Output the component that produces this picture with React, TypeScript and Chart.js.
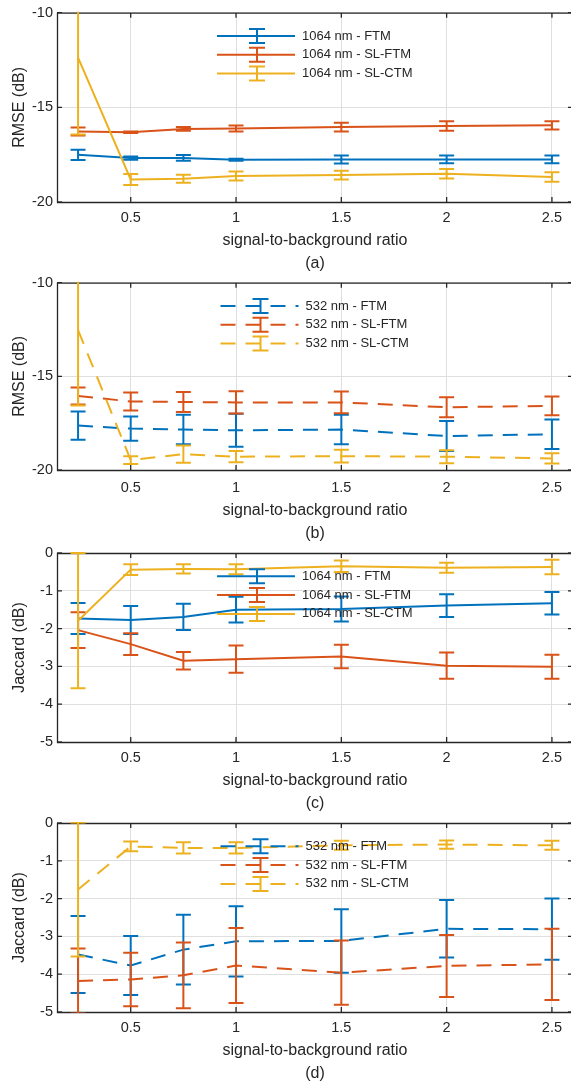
import React, { useEffect, useRef } from 'react';
import { Chart, registerables } from 'chart.js';

Chart.register(...registerables);

// ---------- data ----------
const sbr = [0.25, 0.5, 0.75, 1, 1.5, 2, 2.5];
const xTicks = [0.5, 1, 1.5, 2, 2.5];
const xTickLabels = ['0.5', '1', '1.5', '2', '2.5'];
const xTitle = 'signal-to-background ratio';

const rmseTicks = [-20, -15, -10];
const rmseTickLabels = ['-20', '-15', '-10'];
const jaccardTicks = [-5, -4, -3, -2, -1, 0];
const jaccardTickLabels = ['-5', '-4', '-3', '-2', '-1', '0'];

const methods = ['FTM', 'SL-FTM', 'SL-CTM'];

// (a) RMSE, 1064 nm
const rmse1064FTM = [-17.51, -17.68, -17.67, -17.77, -17.75, -17.75, -17.75];
const rmse1064FTMErr = [0.27, 0.09, 0.15, 0.05, 0.21, 0.2, 0.2];
const rmse1064SLFTM = [-16.28, -16.32, -16.14, -16.12, -16.04, -15.98, -15.95];
const rmse1064SLFTMErr = [0.21, 0.04, 0.1, 0.16, 0.23, 0.25, 0.22];
const rmse1064SLCTM = [-12.37, -18.81, -18.77, -18.63, -18.58, -18.51, -18.68];
const rmse1064SLCTMErr = [4.07, 0.29, 0.21, 0.24, 0.23, 0.25, 0.25];

// (b) RMSE, 532 nm
const rmse532FTM = [-17.63, -17.79, -17.84, -17.88, -17.84, -18.19, -18.09];
const rmse532FTMErr = [0.75, 0.65, 0.79, 0.88, 0.79, 0.8, 0.79];
const rmse532SLFTM = [-16.05, -16.34, -16.37, -16.39, -16.39, -16.65, -16.58];
const rmse532SLFTMErr = [0.45, 0.48, 0.54, 0.6, 0.58, 0.54, 0.5];
const rmse532SLCTM = [-12.53, -19.47, -19.15, -19.29, -19.26, -19.29, -19.38];
const rmse532SLCTMErr = [4.02, 0.21, 0.46, 0.3, 0.34, 0.35, 0.27];

// (c) Jaccard, 1064 nm
const jac1064FTM = [-1.73, -1.77, -1.69, -1.5, -1.48, -1.39, -1.33];
const jac1064FTMErr = [0.41, 0.37, 0.35, 0.34, 0.33, 0.3, 0.3];
const jac1064SLFTM = [-2.04, -2.41, -2.85, -2.81, -2.74, -2.98, -3.01];
const jac1064SLFTMErr = [0.47, 0.29, 0.23, 0.36, 0.31, 0.35, 0.32];
const jac1064SLCTM = [-1.79, -0.44, -0.42, -0.43, -0.35, -0.39, -0.37];
const jac1064SLCTMErr = [1.79, 0.14, 0.12, 0.13, 0.15, 0.13, 0.19];

// (d) Jaccard, 532 nm
const jac532FTM = [-3.48, -3.77, -3.35, -3.13, -3.12, -2.8, -2.81];
const jac532FTMErr = [1.02, 0.78, 0.92, 0.93, 0.84, 0.76, 0.81];
const jac532SLFTM = [-4.18, -4.14, -4.03, -3.77, -3.96, -3.78, -3.74];
const jac532SLFTMErr = [0.86, 0.71, 0.87, 0.99, 0.85, 0.82, 0.94];
const jac532SLCTM = [-1.76, -0.62, -0.66, -0.66, -0.59, -0.57, -0.59];
const jac532SLCTMErr = [1.77, 0.13, 0.15, 0.15, 0.12, 0.11, 0.12];

// ---------- styling ----------
const COLORS = ['#0072BD', '#D95319', '#EDB120'];
const INK = '#262626';
const GRID = '#dfdfdf';
const FONT = "'Liberation Sans', Arial, Helvetica, sans-serif";
const W = 580;
const H = 275;
const PLOT_RIGHT = 573;
const Y_AXIS_W = 57;

Chart.defaults.font.family = FONT;
Chart.defaults.color = INK;

type Series = { label: string; values: number[]; errors: number[]; color: string };
type PanelCfg = {
  series: Series[];
  dashed: boolean;
  yMin: number;
  yMax: number;
  yTicks: number[];
  yTickLabels: string[];
  yTitle: string;
  caption: string;
  top: number;
  plotTop: number;
  plotBottom: number;
  xTickPad: number;
  legendX: number;
};

const mk = (lambda: string, vals: number[][], errs: number[][]): Series[] =>
  methods.map((m, i) => ({ label: `${lambda} - ${m}`, values: vals[i], errors: errs[i], color: COLORS[i] }));

const panels: PanelCfg[] = [
  {
    series: mk('1064 nm', [rmse1064FTM, rmse1064SLFTM, rmse1064SLCTM], [rmse1064FTMErr, rmse1064SLFTMErr, rmse1064SLCTMErr]),
    dashed: false, yMin: -20, yMax: -10, yTicks: rmseTicks, yTickLabels: rmseTickLabels,
    yTitle: 'RMSE (dB)', caption: '(a)', top: 0, plotTop: 12, plotBottom: 202, xTickPad: 7, legendX: 217,
  },
  {
    series: mk('532 nm', [rmse532FTM, rmse532SLFTM, rmse532SLCTM], [rmse532FTMErr, rmse532SLFTMErr, rmse532SLCTMErr]),
    dashed: true, yMin: -20, yMax: -10, yTicks: rmseTicks, yTickLabels: rmseTickLabels,
    yTitle: 'RMSE (dB)', caption: '(b)', top: 270, plotTop: 12, plotBottom: 200, xTickPad: 9, legendX: 220.5,
  },
  {
    series: mk('1064 nm', [jac1064FTM, jac1064SLFTM, jac1064SLCTM], [jac1064FTMErr, jac1064SLFTMErr, jac1064SLCTMErr]),
    dashed: false, yMin: -5, yMax: 0, yTicks: jaccardTicks, yTickLabels: jaccardTickLabels,
    yTitle: 'Jaccard (dB)', caption: '(c)', top: 540, plotTop: 13, plotBottom: 202, xTickPad: 7, legendX: 217,
  },
  {
    series: mk('532 nm', [jac532FTM, jac532SLFTM, jac532SLCTM], [jac532FTMErr, jac532SLFTMErr, jac532SLCTMErr]),
    dashed: true, yMin: -5, yMax: 0, yTicks: jaccardTicks, yTickLabels: jaccardTickLabels,
    yTitle: 'Jaccard (dB)', caption: '(d)', top: 810, plotTop: 13, plotBottom: 202, xTickPad: 7, legendX: 220.5,
  },
];

const DASH = [15, 10];

function Panel({ cfg }: { cfg: PanelCfg }) {
  const ref = useRef<HTMLCanvasElement>(null);

  useEffect(() => {
    const canvas = ref.current;
    if (!canvas) return;

    const errorBars = {
      id: 'errorBars',
      afterDatasetDraw(chart: any, args: any) {
        const ds = chart.data.datasets[args.index];
        const errs: number[] = ds.errors;
        if (!errs) return;
        const { ctx, chartArea: a } = chart;
        const xs = chart.scales.x;
        const ys = chart.scales.y;
        ctx.save();
        ctx.beginPath();
        ctx.rect(a.left, a.top - 1, a.right - a.left, a.bottom - a.top + 2);
        ctx.clip();
        ctx.strokeStyle = ds.borderColor;
        ctx.lineWidth = 2;
        ctx.setLineDash([]);
        ds.data.forEach((p: any, i: number) => {
          const px = xs.getPixelForValue(p.x);
          const y1 = ys.getPixelForValue(p.y + errs[i]);
          const y2 = ys.getPixelForValue(p.y - errs[i]);
          ctx.beginPath();
          ctx.moveTo(px, y1);
          ctx.lineTo(px, y2);
          ctx.moveTo(px - 7.5, y1);
          ctx.lineTo(px + 7.5, y1);
          ctx.moveTo(px - 7.5, y2);
          ctx.lineTo(px + 7.5, y2);
          ctx.stroke();
        });
        ctx.restore();
      },
    };

    const frame = {
      id: 'frame',
      beforeDatasetsDraw(chart: any) {
        const { ctx, chartArea: a } = chart;
        const xs = chart.scales.x;
        const ys = chart.scales.y;
        ctx.save();
        ctx.strokeStyle = INK;
        ctx.lineWidth = 1.3;
        ctx.beginPath();
        ctx.moveTo(a.left + 0.5, a.top + 0.5);
        ctx.lineTo(a.right + 0.5, a.top + 0.5);
        ctx.lineTo(a.right + 0.5, a.bottom + 0.5);
        ctx.lineTo(a.left + 0.5, a.bottom + 0.5);
        ctx.closePath();
        xTicks.forEach((v) => {
          const px = xs.getPixelForValue(v);
          ctx.moveTo(px, a.bottom);
          ctx.lineTo(px, a.bottom - 5);
          ctx.moveTo(px, a.top);
          ctx.lineTo(px, a.top + 5);
        });
        cfg.yTicks.forEach((v) => {
          const py = ys.getPixelForValue(v);
          ctx.moveTo(a.left, py);
          ctx.lineTo(a.left + 5, py);
          ctx.moveTo(a.right, py);
          ctx.lineTo(a.right - 5, py);
        });
        ctx.stroke();
        ctx.restore();
      },
    };

    const legend = {
      id: 'panelLegend',
      afterDraw(chart: any) {
        const { ctx, chartArea: a } = chart;
        const lx = cfg.legendX;
        ctx.save();
        cfg.series.forEach((s, i) => {
          const yy = a.top + 23.3 + i * 18.8;
          ctx.strokeStyle = s.color;
          ctx.lineWidth = 2;
          ctx.setLineDash(cfg.dashed ? DASH : []);
          ctx.beginPath();
          ctx.moveTo(lx, yy);
          ctx.lineTo(lx + 78, yy);
          ctx.stroke();
          ctx.setLineDash([]);
          const cx = lx + 40;
          ctx.beginPath();
          ctx.moveTo(cx, yy - 7);
          ctx.lineTo(cx, yy + 7);
          ctx.moveTo(cx - 8, yy - 7);
          ctx.lineTo(cx + 8, yy - 7);
          ctx.moveTo(cx - 8, yy + 7);
          ctx.lineTo(cx + 8, yy + 7);
          ctx.stroke();
          ctx.fillStyle = INK;
          ctx.font = `13px ${FONT}`;
          ctx.textAlign = 'left';
          ctx.textBaseline = 'middle';
          ctx.fillText(s.label, lx + 85, yy);
        });
        ctx.restore();
      },
    };

    const chart = new Chart(canvas, {
      type: 'line',
      data: {
        datasets: cfg.series.map((s, i) => ({
          label: s.label,
          data: sbr.map((x, j) => ({ x, y: s.values[j] })),
          errors: s.errors,
          borderColor: s.color,
          backgroundColor: s.color,
          borderWidth: 2,
          borderDash: cfg.dashed ? DASH : [],
          pointRadius: 0,
          pointHoverRadius: 0,
          tension: 0,
          fill: false,
          order: 3 - i,
        })) as any,
      },
      options: {
        animation: false,
        responsive: false,
        events: [],
        layout: { padding: { top: cfg.plotTop, right: W - PLOT_RIGHT, left: 0, bottom: 0 } },
        plugins: { legend: { display: false }, tooltip: { enabled: false } },
        scales: {
          x: {
            type: 'linear',
            min: 0.15,
            max: 2.6,
            afterBuildTicks: (s: any) => {
              s.ticks = xTicks.map((v) => ({ value: v }));
            },
            afterFit: (s: any) => {
              s.height = H - cfg.plotBottom;
            },
            grid: { color: GRID, lineWidth: 1, drawTicks: false },
            border: { display: false },
            ticks: {
              autoSkip: false,
              maxRotation: 0,
              padding: cfg.xTickPad,
              color: INK,
              font: { size: 14.5 },
              callback: (_v: any, i: number) => xTickLabels[i],
            },
            title: {
              display: true,
              text: [xTitle, cfg.caption],
              color: INK,
              font: { size: 16, lineHeight: 23 / 16 },
              padding: 0,
            },
          },
          y: {
            type: 'linear',
            min: cfg.yMin,
            max: cfg.yMax,
            afterBuildTicks: (s: any) => {
              s.ticks = cfg.yTicks.map((v) => ({ value: v }));
            },
            afterFit: (s: any) => {
              s.width = Y_AXIS_W;
            },
            grid: { color: GRID, lineWidth: 1, drawTicks: false },
            border: { display: false },
            ticks: {
              autoSkip: false,
              padding: 4,
              color: INK,
              font: { size: 14.5 },
              callback: (_v: any, i: number) => cfg.yTickLabels[i],
            },
            title: {
              display: true,
              text: cfg.yTitle,
              color: INK,
              font: { size: 16 },
              padding: { top: 10, bottom: 0 },
            },
          },
        },
      } as any,
      plugins: [frame, errorBars, legend],
    });

    return () => chart.destroy();
  }, [cfg]);

  return (
    <div style={{ position: 'absolute', left: 0, top: cfg.top, width: W, height: H }}>
      <canvas ref={ref} width={W} height={H} style={{ display: 'block', width: W, height: H }} />
    </div>
  );
}

export default function App() {
  return (
    <div
      style={{
        position: 'absolute',
        left: 0,
        top: 0,
        width: 571,
        height: 1082,
        overflow: 'hidden',
        background: '#ffffff',
      }}
    >
      {panels.map((p) => (
        <Panel key={p.caption} cfg={p} />
      ))}
    </div>
  );
}
